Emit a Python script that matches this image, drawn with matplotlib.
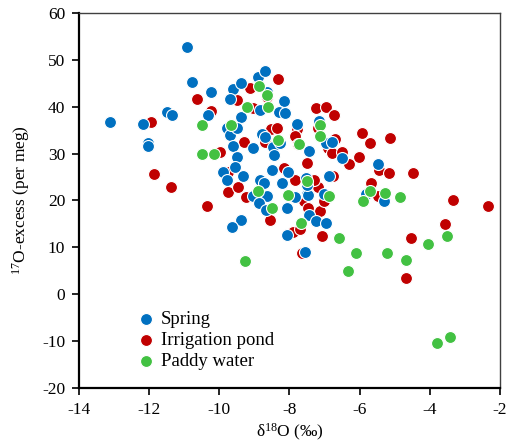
import matplotlib
matplotlib.use("Agg")
import matplotlib.pyplot as plt

plt.rcParams['font.family'] = ['Liberation Serif', 'DejaVu Serif']
plt.rcParams['mathtext.fontset'] = 'custom'
plt.rcParams['mathtext.rm'] = 'Liberation Serif'
plt.rcParams['mathtext.it'] = 'Liberation Serif:italic'
plt.rcParams['axes.unicode_minus'] = False

# Spring samples (d18O, 17O-excess)
spring_x = [-10.91, -10.77, -10.23, -13.11, -12.17, -12.03, -12.03, -11.49, -11.34, -10.31,
            -9.37, -9.60, -9.37, -9.71, -8.89, -8.69, -8.63, -8.17, -8.31, -8.83,
            -8.14, -9.77, -9.69, -9.49, -8.77, -8.71, -8.46, -8.26, -9.60, -9.03,
            -8.43, -9.49, -9.54, -9.89, -9.77, -9.34, -8.83, -8.74, -8.51, -8.20,
            -8.03, -9.03, -8.63, -8.86, -8.66, -8.06, -9.37, -9.63, -8.06, -7.80,
            -7.17, -6.97, -6.80, -7.43, -6.49, -7.54, -6.86, -7.49, -7.03, -5.49,
            -7.83, -7.46, -7.51, -7.43, -7.23, -6.97, -7.57, -5.83, -5.31]
spring_y = [52.7, 45.3, 43.2, 36.8, 36.3, 32.3, 31.6, 38.9, 38.3, 38.3,
            37.8, 43.8, 45.1, 41.7, 46.4, 47.6, 43.2, 41.2, 38.9, 39.3,
            38.7, 35.5, 34.0, 35.5, 34.2, 33.6, 31.4, 32.3, 31.6, 31.2,
            29.7, 29.3, 27.2, 26.1, 24.4, 25.2, 24.4, 23.8, 26.5, 23.8,
            26.1, 21.0, 21.0, 19.5, 18.0, 18.4, 15.9, 14.4, 12.7, 36.3,
            37.0, 32.3, 32.5, 30.6, 29.1, 24.8, 25.2, 21.4, 21.4, 27.8,
            20.8, 21.2, 23.3, 16.9, 15.7, 15.2, 9.0, 21.4, 19.9]

# Irrigation pond samples
pond_x = [-8.34, -9.14, -10.63, -9.51, -10.23, -8.63, -9.03, -8.54, -8.37, -9.31,
          -8.71, -11.94, -9.97, -11.86, -11.37, -9.74, -9.46, -9.74, -8.17, -9.23,
          -7.23, -6.97, -6.74, -5.94, -5.71, -5.14, -7.80, -7.83, -7.77, -7.20,
          -6.71, -6.91, -6.80, -6.51, -6.29, -6.03, -7.49, -7.83, -7.20, -6.77,
          -5.46, -5.17, -4.49, -5.69, -3.34, -7.31, -10.34, -8.57, -7.60, -7.46,
          -7.14, -7.03, -7.89, -7.71, -7.06, -5.49, -2.34, -3.57, -4.54, -4.69,
          -7.63]
pond_y = [45.9, 44.0, 41.7, 41.5, 39.1, 42.1, 39.7, 35.3, 35.5, 32.5,
          32.5, 36.8, 30.4, 25.7, 22.9, 21.8, 22.9, 26.1, 27.0, 20.8,
          39.7, 40.0, 38.3, 34.4, 32.3, 33.3, 35.3, 33.8, 32.1, 35.5,
          33.1, 31.2, 30.1, 30.4, 27.8, 29.3, 28.0, 24.4, 22.9, 25.2,
          26.5, 25.9, 25.9, 23.8, 20.1, 24.4, 18.8, 15.9, 19.9, 18.4,
          17.8, 19.9, 13.3, 13.9, 12.5, 21.0, 18.8, 15.0, 12.0, 3.5,
          8.8]

# Paddy water samples
paddy_x = [-8.86, -8.63, -9.20, -8.60, -10.49, -9.66, -8.34, -10.49, -10.14, -8.91,
           -8.03, -7.14, -7.14, -7.74, -7.49, -6.86, -5.71, -5.29, -4.86, -8.49,
           -9.26, -7.66, -6.60, -5.91, -6.11, -5.23, -6.34, -4.69, -4.06, -3.51,
           -3.80, -3.43]
paddy_y = [44.4, 42.5, 40.0, 40.0, 36.1, 36.1, 32.9, 29.9, 29.9, 22.0,
           21.2, 36.1, 33.8, 32.1, 24.2, 21.0, 22.0, 21.6, 20.8, 18.4,
           7.1, 15.2, 12.0, 19.9, 8.8, 8.8, 5.0, 7.3, 10.7, 12.5,
           -10.4, -9.1]

fig = plt.figure(figsize=(5.07, 4.47), dpi=100)
ax = fig.add_axes([0.156, 0.132, 0.830, 0.839])

msize = 74
ax.scatter(pond_x, pond_y, s=msize, c='#C00000', edgecolors='white', linewidths=0.8,
           zorder=2, label='Irrigation pond')
ax.scatter(spring_x, spring_y, s=msize, c='#0070C0', edgecolors='white', linewidths=0.8,
           zorder=3, label='Spring')
ax.scatter(paddy_x, paddy_y, s=msize, c='#42C142', edgecolors='white', linewidths=0.8,
           zorder=4, label='Paddy water')

ax.set_xlim(-14, -2)
ax.set_ylim(-20, 60)
ax.set_xticks(range(-14, -1, 2))
ax.set_yticks(range(-20, 61, 10))
ax.tick_params(direction='out', length=5, width=1.2, labelsize=12.5, top=False, right=False)
ax.tick_params(axis='x', pad=5)
ax.tick_params(axis='y', pad=5)

for side in ['left', 'bottom']:
    ax.spines[side].set_linewidth(1.6)
    ax.spines[side].set_color('black')
for side in ['top', 'right']:
    ax.spines[side].set_linewidth(1.0)
    ax.spines[side].set_color('#404040')

ax.set_xlabel('δ$^{18}$O (‰)', fontsize=12.5, labelpad=3)
ax.set_ylabel('$^{17}$O-excess (per meg)', fontsize=12.5, labelpad=7)

# legend order as in the figure
handles, labels = ax.get_legend_handles_labels()
order = [1, 0, 2]
ax.legend([handles[i] for i in order], [labels[i] for i in order],
          loc='lower left', bbox_to_anchor=(0.105, 0.012), frameon=False,
          fontsize=13.5, handlelength=1.0, handletextpad=0.3, labelspacing=0.22,
          borderpad=0.2)

fig.savefig('out.png', dpi=100)
